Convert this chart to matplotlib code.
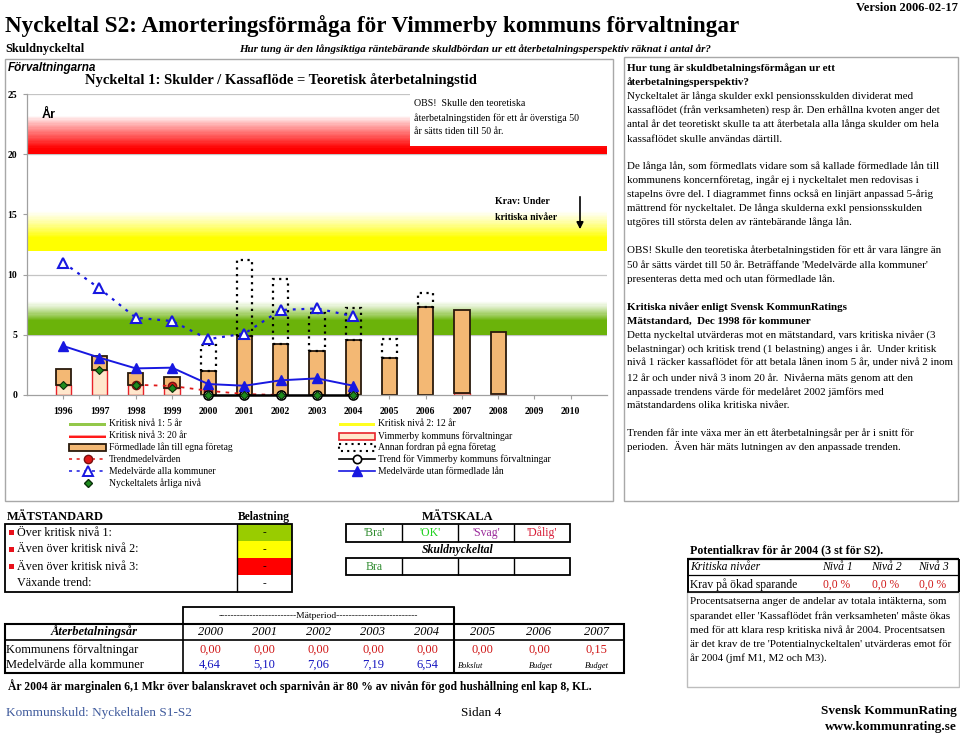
import matplotlib
matplotlib.use('Agg')
import matplotlib.pyplot as plt
import numpy as np
from matplotlib.patches import Rectangle
from matplotlib.lines import Line2D

SERIF = ['Liberation Serif', 'DejaVu Serif']
SANS = ['Liberation Sans', 'DejaVu Sans']

# ---------------- data ----------------
years = [1996, 1997, 1998, 1999, 2000, 2001, 2002, 2003, 2004, 2005, 2006, 2007, 2008, 2009, 2010]
# Vimmerby kommuns förvaltningar (nyckeltal, lower bar)
forvaltningar = [0.85, 2.07, 0.83, 0.55, 0, 0, 0, 0, 0, 0, 0, 0.15, 0.08, 0, 0]
# Förmedlade lån till egna företag (stacked)
formedlade = [1.28, 1.19, 0.97, 0.97, 2.02, 4.90, 4.20, 3.65, 4.54, 3.04, 7.33, 6.90, 5.12, 0, 0]
# Annan fordran på egna företag (stacked, dotted)
annan = [0, 0, 0, 0, 2.13, 6.30, 5.45, 3.18, 2.65, 1.63, 1.11, 0, 0, 0, 0]
# Lines 1996-2004
line_years = [1996, 1997, 1998, 1999, 2000, 2001, 2002, 2003, 2004]
medel_alla = [11.0, 8.85, 6.42, 6.14, 4.64, 5.10, 7.06, 7.19, 6.54]
medel_utan = [4.07, 3.10, 2.21, 2.27, 0.91, 0.77, 1.22, 1.38, 0.77]
arlig_niva = [0.85, 2.07, 0.83, 0.55, 0, 0, 0, 0, 0]
trendmedel_years = [1998, 1999, 2000, 2001, 2002]
trendmedel = [0.85, 0.75, 0.35, 0.08, 0.0]
trend_years = [2000, 2001, 2002, 2003, 2004]
trend_vimmerby = [0, 0, 0, 0, 0]
# critical levels
niva1, niva2, niva3 = 5, 12, 20
yticks = [0, 5, 10, 15, 20, 25]

# table data
tab_years = ['2000', '2001', '2002', '2003', '2004', '2005', '2006', '2007']
tab_kommunens = ['0,00', '0,00', '0,00', '0,00', '0,00', '0,00', '0,00', '0,15']
tab_medel = ['4,64', '5,10', '7,06', '7,19', '6,54']
tab_notes = ['Bokslut', 'Budget', 'Budget']
skala_labels = ["'Bra'", "'OK'", "'Svag'", "'Dålig'"]
skala_colors = ['#2E8B2E', '#1FD21F', '#9A2A9A', '#D8203A']
mst_rows = ['Över kritisk nivå 1:', 'Även över kritisk nivå 2:', 'Även över kritisk nivå 3:', 'Växande trend:']
mst_colors = ['#99CC00', '#FFFF00', '#FF0000', '#FFFFFF']
pot_levels = ['Nivå 1', 'Nivå 2', 'Nivå 3']
pot_values = ['0,0 %', '0,0 %', '0,0 %']

# ---------------- figure ----------------
W, H = 960, 734
fig = plt.figure(figsize=(W / 100, H / 100), dpi=100)
fig.patch.set_facecolor('white')

L, R, T, B = 27, 607, 94, 395
ax = fig.add_axes([L / W, 1 - B / H, (R - L) / W, (B - T) / H])
xpos = {y: i for i, y in enumerate(years)}
x = np.arange(len(years))


def band(y0, height, rgb, sat=0.4, p=1.3, n=30):
    edges = np.linspace(y0, y0 + height, n + 1)
    rgb = np.array(rgb)
    for k in range(n):
        t = (k + 0.5) / n
        a = np.clip((1 - t) / (1 - sat), 0, 1) ** p
        c = a * rgb + (1 - a) * np.ones(3)
        ax.axhspan(edges[k], edges[k + 1], color=tuple(c), lw=0, zorder=0.5)


band(niva1, 2.8, (0.42, 0.70, 0.04), sat=0.42, p=1.2)
band(niva2, 3.3, (1.0, 1.0, 0.0), sat=0.32, p=1.2)
band(niva3, 3.2, (1.0, 0.0, 0.0), sat=0.15, p=0.9)

for gy in [5, 10, 15, 20, 25]:
    ax.axhline(gy, color='#C4C4C4', lw=0.9, zorder=0.3)

bw = 0.42
idx = [i for i, v in enumerate(forvaltningar) if v > 0]
ax.bar(x[idx], np.array(forvaltningar)[idx], bw, color='#FFE7CC', edgecolor='#E8232A', lw=1.0, zorder=2)
idx = [i for i, v in enumerate(formedlade) if v > 0]
ax.bar(x[idx], np.array(formedlade)[idx], bw, bottom=np.array(forvaltningar)[idx],
       color='#F3B874', edgecolor='#2A1A0C', lw=1.3, zorder=2.1)
bot2 = np.add(forvaltningar, formedlade)
idx = [i for i, v in enumerate(annan) if v > 0]
ax.bar(x[idx], np.array(annan)[idx], bw, bottom=bot2[idx], fill=False,
       edgecolor='black', lw=1.6, linestyle=(0, (1.0, 2.0)), zorder=2.2)

lx = [xpos[y] for y in line_years]
blue = '#1818E0'
ax.plot([xpos[y] for y in trend_years], trend_vimmerby, color='black', lw=1.8, marker='o', ms=6.5,
        mfc='white', mec='black', mew=1.2, zorder=3.6, clip_on=False)
ax.plot([xpos[y] for y in trendmedel_years], trendmedel, color='#E01818', ls=(0, (2, 3)), lw=1.3,
        marker='o', ms=6, mfc='#E01818', mec='#7A1010', zorder=3.5)
ax.plot(lx, medel_alla, color=blue, ls=(0, (1.3, 2.6)), lw=1.6, marker='^', ms=7,
        mfc='white', mec=blue, mew=1.5, zorder=4)
ax.plot(lx, medel_utan, color=blue, lw=1.4, marker='^', ms=7, mfc=blue, mec=blue, zorder=4)
ax.plot(lx, arlig_niva, ls='none', marker='D', ms=4.5, mfc='#1E8C1E', mec='#0A300A', mew=0.8,
        zorder=5, clip_on=False)

ax.set_xlim(-1, 15)
ax.set_ylim(0, 25)
ax.set_xticks(x)
ax.set_xticklabels([str(y) for y in years], fontfamily=SERIF, fontweight='bold', fontsize=7)
ax.set_yticks(yticks)
ax.set_yticklabels([str(v) for v in yticks], fontfamily=SERIF, fontweight='bold', fontsize=7)
ax.tick_params(axis='x', length=3, color='#A0A0A0', pad=6)
ax.tick_params(axis='y', length=3, color='#A0A0A0', pad=4)
for s in ['top', 'right']:
    ax.spines[s].set_visible(False)
for s in ['left', 'bottom']:
    ax.spines[s].set_color('#A0A0A0')
    ax.spines[s].set_linewidth(0.9)
ax.set_facecolor('white')

# ---------------- overlay (pixel coords) ----------------
ov = fig.add_axes([0, 0, 1, 1], zorder=10)
ov.set_xlim(0, W)
ov.set_ylim(H, 0)
ov.axis('off')
ov.patch.set_alpha(0)


def T(xp, yp, s, size=7.4, weight='normal', style='normal', ha='left', color='black', family=SERIF, va='center'):
    ov.text(xp, yp, s, fontsize=size, fontweight=weight, fontstyle=style, ha=ha, va=va,
            color=color, family=family)


def box(x0, y0, x1, y1, ec='black', lw=1.0, fc='none', ls='-', z=1):
    ov.add_patch(Rectangle((x0, y0), x1 - x0, y1 - y0, fc=fc, ec=ec, lw=lw, ls=ls, zorder=z))


def hl(x0, x1, yv, lw=1.0, c='black'):
    ov.plot([x0, x1], [yv, yv], color=c, lw=lw, solid_capstyle='butt')


def vl(xv, y0, y1, lw=1.0, c='black'):
    ov.plot([xv, xv], [y0, y1], color=c, lw=lw, solid_capstyle='butt')


# header
T(5, 26, 'Nyckeltal S2: Amorteringsförmåga för Vimmerby kommuns förvaltningar', size=16.7, weight='bold')
T(958, 8, 'Version 2006-02-17', size=9, weight='bold', ha='right')
T(5, 49, 'Skuldnyckeltal', size=8.9, weight='bold')
T(239, 49, 'Hur tung är den långsiktiga räntebärande skuldbördan ur ett återbetalningsperspektiv räknat i antal år?',
  size=7.9, weight='bold', style='italic')

# panels
box(5, 59, 613, 501, ec='#A8A8A8', lw=1.0)
box(624, 57, 958, 501, ec='#A8A8A8', lw=1.0)

T(8, 68, 'Förvaltningarna', size=8.5, weight='bold', style='italic', family=SANS)
T(85, 80, 'Nyckeltal 1: Skulder / Kassaflöde = Teoretisk återbetalningstid', size=10.5, weight='bold')
T(42, 115, 'År', size=9, weight='bold', family=SANS)

# OBS box
box(410, 94, 607, 146, ec='none', fc='white', z=3)
for i, s in enumerate(['OBS!  Skulle den teoretiska',
                       'återbetalningstiden för ett år överstiga 50',
                       'år sätts tiden till 50 år.']):
    T(414, 104 + 14 * i, s, size=7.1)

T(495, 202, 'Krav: Under', size=7.1, weight='bold')
T(495, 217, 'kritiska nivåer', size=7.1, weight='bold')
ov.annotate('', xy=(580, 232), xytext=(580, 194),
            arrowprops=dict(arrowstyle='-|>', color='black', lw=1.2, mutation_scale=10))

# legend
rows = [424, 436, 447, 459, 471, 483]
lx0, lx1, ltx = 69, 106, 109
rx0, rx1, rtx = 339, 375, 378
lfs = 6.9
# left column
ov.add_patch(Rectangle((lx0, rows[0] - 1.5), lx1 - lx0, 3, fc='#93C84A', ec='none'))
T(ltx, rows[0], 'Kritisk nivå 1: 5 år', size=lfs)
ov.add_patch(Rectangle((lx0, rows[1] - 1.5), lx1 - lx0, 1.5, fc='#FF9A9A', ec='none'))
ov.add_patch(Rectangle((lx0, rows[1]), lx1 - lx0, 1.8, fc='#FF1A1A', ec='none'))
T(ltx, rows[1], 'Kritisk nivå 3: 20 år', size=lfs)
ov.add_patch(Rectangle((lx0, rows[2] - 3.5), lx1 - lx0, 7, fc='#F3B874', ec='#2A1A0C', lw=1.3))
T(ltx, rows[2], 'Förmedlade lån till egna företag', size=lfs)
ov.add_line(Line2D([lx0, lx1], [rows[3], rows[3]], color='#E01818', ls=(0, (2, 3)), lw=1.1))
ov.add_line(Line2D([87.5], [rows[3]], marker='o', ms=6, mfc='#E01818', mec='#7A1010', ls='none'))
T(ltx, rows[3], 'Trendmedelvärden', size=lfs)
ov.add_line(Line2D([lx0, lx1], [rows[4], rows[4]], color=blue, ls=(0, (2, 3)), lw=1.1))
ov.add_line(Line2D([87.5], [rows[4]], marker='^', ms=6.5, mfc='white', mec=blue, mew=1.4, ls='none'))
T(ltx, rows[4], 'Medelvärde alla kommuner', size=lfs)
ov.add_line(Line2D([87.5], [rows[5]], marker='D', ms=4.5, mfc='#1E8C1E', mec='#0A300A', ls='none'))
T(ltx, rows[5], 'Nyckeltalets årliga nivå', size=lfs)
# right column
ov.add_patch(Rectangle((rx0, rows[0] - 1.5), rx1 - rx0, 3, fc='#FFFF20', ec='none'))
T(rtx, rows[0], 'Kritisk nivå 2: 12 år', size=lfs)
ov.add_patch(Rectangle((rx0, rows[1] - 3.5), rx1 - rx0, 7, fc='#FFE7CC', ec='#E8232A', lw=1.2))
T(rtx, rows[1], 'Vimmerby kommuns förvaltningar', size=lfs)
ov.add_patch(Rectangle((rx0, rows[2] - 3.5), rx1 - rx0, 7, fc='none', ec='black', lw=1.5, ls=(0, (1, 2))))
T(rtx, rows[2], 'Annan fordran på egna företag', size=lfs)
ov.add_line(Line2D([rx0, rx1], [rows[3], rows[3]], color='black', lw=1.2))
ov.add_line(Line2D([357], [rows[3]], marker='o', ms=6, mfc='white', mec='black', mew=1.2, ls='none'))
T(rtx, rows[3], 'Trend för Vimmerby kommuns förvaltningar', size=lfs)
ov.add_line(Line2D([rx0, rx1], [rows[4], rows[4]], color=blue, lw=1.2))
ov.add_line(Line2D([357], [rows[4]], marker='^', ms=6.5, mfc=blue, mec=blue, ls='none'))
T(rtx, rows[4], 'Medelvärde utan förmedlade lån', size=lfs)

# right text panel
rtext = [
    ('Hur tung är skuldbetalningsförmågan ur ett', 'bold', 68),
    ('återbetalningsperspektiv?', 'bold', 82),
    ('Nyckeltalet är långa skulder exkl pensionsskulden dividerat med', 'normal', 96),
    ('kassaflödet (från verksamheten) resp år. Den erhållna kvoten anger det', 'normal', 110),
    ('antal år det teoretiskt skulle ta att återbetala alla långa skulder om hela', 'normal', 124),
    ('kassaflödet skulle användas därtill.', 'normal', 139),
    ('De långa lån, som förmedlats vidare som så kallade förmedlade lån till', 'normal', 166),
    ('kommunens koncernföretag, ingår ej i nyckeltalet men redovisas i', 'normal', 180),
    ('stapelns övre del. I diagrammet finns också en linjärt anpassad 5-årig', 'normal', 194),
    ('mättrend för nyckeltalet. De långa skulderna exkl pensionsskulden', 'normal', 208),
    ('utgöres till största delen av räntebärande långa lån.', 'normal', 222),
    ('OBS! Skulle den teoretiska återbetalningstiden för ett år vara längre än', 'normal', 250),
    ("50 år sätts värdet till 50 år. Beträffande 'Medelvärde alla kommuner'", 'normal', 265),
    ('presenteras detta med och utan förmedlade lån.', 'normal', 279),
    ('Kritiska nivåer enligt Svensk KommunRatings', 'bold', 307),
    ('Mätstandard,  Dec 1998 för kommuner', 'bold', 321),
    ('Detta nyckeltal utvärderas mot en mätstandard, vars kritiska nivåer (3', 'normal', 335),
    ('belastningar) och kritisk trend (1 belastning) anges i år.  Under kritisk', 'normal', 349),
    ('nivå 1 räcker kassaflödet för att betala lånen inom 5 år, under nivå 2 inom', 'normal', 363),
    ('12 år och under nivå 3 inom 20 år.  Nivåerna mäts genom att den', 'normal', 378),
    ('anpassade trendens värde för medelåret 2002 jämförs med', 'normal', 392),
    ('mätstandardens olika kritiska nivåer.', 'normal', 406),
    ('Trenden får inte växa mer än ett återbetalningsår per år i snitt för', 'normal', 433),
    ('perioden.  Även här mäts lutningen av den anpassade trenden.', 'normal', 447),
]
for s, w, yv in rtext:
    T(627, yv, s, size=7.95, weight=w)

# MÄTSTANDARD table
T(7, 517, 'MÄTSTANDARD', size=8.9, weight='bold')
T(264, 517, 'Belastning', size=8.3, weight='bold', ha='center')
T(458, 517, 'MÄTSKALA', size=8.9, weight='bold', ha='center')
for i, (lab, col) in enumerate(zip(mst_rows, mst_colors)):
    y0 = 524 + 17 * i
    ov.add_patch(Rectangle((237, y0), 55, 17, fc=col, ec='none'))
    T(264, y0 + 8.5, '-', size=8, ha='center')
    if i < 3:
        ov.add_patch(Rectangle((8.5, y0 + 5.5), 5, 5, fc='#E8101A', ec='none'))
    T(17, y0 + 8.5, lab, size=8.7)
box(5, 524, 292, 592, lw=1.3)
vl(237, 524, 592, lw=1.0)

# MÄTSKALA
cw = (570 - 346) / 4
box(346, 524, 570, 542, lw=1.3)
box(346, 558, 570, 575, lw=1.3)
for k in range(1, 4):
    vl(346 + cw * k, 524, 542)
    vl(346 + cw * k, 558, 575)
for k, (s, c) in enumerate(zip(skala_labels, skala_colors)):
    T(346 + cw * (k + 0.5), 533, s, size=8.5, ha='center', color=c)
T(458, 550.5, 'Skuldnyckeltal', size=8.5, weight='bold', style='italic', ha='center')
T(346 + cw * 0.5, 566.5, 'Bra', size=8.5, ha='center', color=skala_colors[0])

# period table
box(183, 607, 454, 624, lw=1.3)
T(318.5, 615.5, '-' * 25 + 'Mätperiod' + '-' * 26, size=6.8, ha='center')
box(5, 624, 624, 673, lw=1.5)
hl(5, 624, 640, lw=1.2)
vl(183, 624, 673, lw=1.2)
vl(454, 607, 673, lw=1.5)
col_x = [210, 264, 318.5, 373, 427, 482, 539, 596]
T(94, 632, 'Återbetalningsår', size=9, weight='bold', style='italic', ha='center')
for cx, s in zip(col_x, tab_years):
    T(cx, 632, s, size=9, style='italic', ha='center')
T(6, 650, 'Kommunens förvaltningar', size=9)
for cx, s in zip(col_x, tab_kommunens):
    T(cx, 650, s, size=9, ha='center', color='#D01818')
T(6, 665, 'Medelvärde alla kommuner', size=9)
for cx, s in zip(col_x[:5], tab_medel):
    T(cx, 665, s, size=9, ha='center', color='#1515C0')
for cx, s in zip([471, 541, 597], tab_notes):
    T(cx, 666, s, size=6, style='italic', ha='center')

T(8, 686, 'År 2004 är marginalen 6,1 Mkr över balanskravet och sparnivån är 80 % av nivån för god hushållning enl kap 8, KL.',
  size=8.4, weight='bold')
T(6, 713, 'Kommunskuld: Nyckeltalen S1-S2', size=9.5, color='#3F5A9C')
T(461, 713, 'Sidan 4', size=9.5)

# Potentialkrav
T(690, 550, 'Potentialkrav för år 2004 (3 st för S2).', size=8.6, weight='bold')
hl(687, 959, 559, lw=1.6)
hl(687, 959, 575, lw=0.9)
hl(687, 959, 592, lw=1.2)
vl(688, 559, 592, lw=1.4)
vl(958.5, 559, 592, lw=1.6)
T(690, 567, 'Kritiska nivåer', size=8.4, style='italic')
T(690, 584.5, 'Krav på ökad sparande', size=8.4)
for cx, s, v in zip([837, 886, 933], pot_levels, pot_values):
    T(cx, 567, s, size=8.4, style='italic', ha='center')
    T(cx, 584.5, v, size=8.4, ha='center', color='#D01818')
box(687, 592, 959, 687, ec='#BDBDBD', lw=1.0)
ptext = ['Procentsatserna anger de andelar av totala intäkterna, som',
         "sparandet eller 'Kassaflödet från verksamheten' måste ökas",
         'med för att klara resp kritiska nivå år 2004. Procentsatsen',
         "är det krav de tre 'Potentialnyckeltalen' utvärderas emot för",
         'år 2004 (jmf M1, M2 och M3).']
for i, s in enumerate(ptext):
    T(690, 602 + 14 * i, s, size=7.95)

T(957, 711, 'Svensk KommunRating', size=9.5, weight='bold', ha='right')
T(957, 727, 'www.kommunrating.se', size=9.5, weight='bold', ha='right')

fig.savefig('out.png', dpi=100, facecolor='white')
